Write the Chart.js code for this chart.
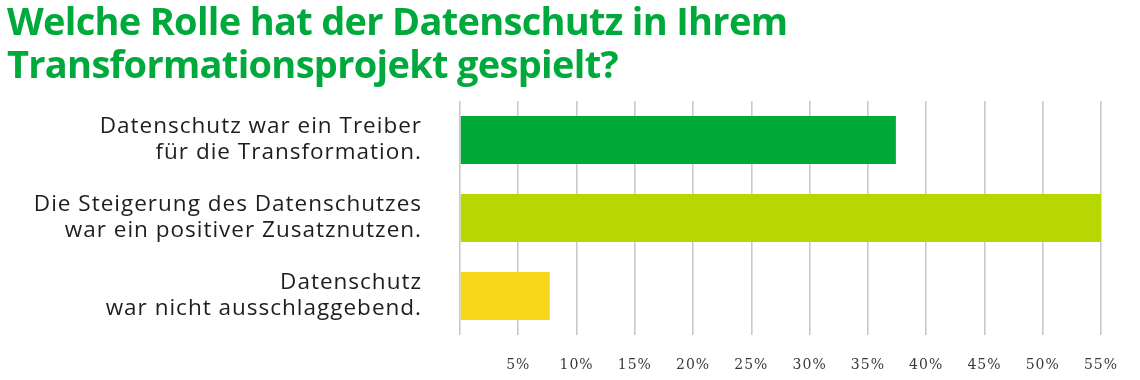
<!DOCTYPE html>
<html>
<head>
<meta charset="utf-8">
<script src="https://cdn.jsdelivr.net/npm/chart.js@4/dist/chart.umd.min.js"></script>
<style>
html,body{margin:0;padding:0;background:#fff;}
#wrap{width:1140px;height:380px;position:relative;overflow:hidden;}
#title{position:absolute;left:7px;top:-1px;margin:0;font-family:'Open Sans',sans-serif;font-weight:700;
  font-size:38px;line-height:43px;letter-spacing:-0.7px;color:#00a93b;white-space:nowrap;}
canvas{position:absolute;left:0;top:0;}
</style>
</head>
<body>
<div id="wrap">
<canvas id="c" width="1140" height="380"></canvas>
<h1 id="title"></h1>
</div>
<script>
const titleLines = ["Welche Rolle hat der Datenschutz in Ihrem", "Transformationsprojekt gespielt?"];
const categories = [
  ["Datenschutz war ein Treiber", "für die Transformation."],
  ["Die Steigerung des Datenschutzes", "war ein positiver Zusatznutzen."],
  ["Datenschutz", "war nicht ausschlaggebend."]
];
const values = [37.4, 55, 7.7];
const barColors = ["#00aa39", "#b6d700", "#f6d619"];
const tickValues = [0, 5, 10, 15, 20, 25, 30, 35, 40, 45, 50, 55];
const tickLabels = ["", "5%", "10%", "15%", "20%", "25%", "30%", "35%", "40%", "45%", "50%", "55%"];

const titleEl = document.getElementById('title');
titleLines.forEach((t, i) => {
  if (i) titleEl.appendChild(document.createElement('br'));
  titleEl.appendChild(document.createTextNode(t));
});

const spacingPlugin = {
  id: 'spacing',
  beforeDraw(chart) { chart.ctx.letterSpacing = '1px'; }
};

new Chart(document.getElementById('c'), {
  type: 'bar',
  data: {
    labels: categories,
    datasets: [{
      data: values,
      backgroundColor: barColors,
      borderWidth: 0,
      categoryPercentage: 1,
      barPercentage: 0.615
    }]
  },
  plugins: [spacingPlugin],
  options: {
    indexAxis: 'y',
    responsive: false,
    animation: false,
    devicePixelRatio: 1,
    layout: { padding: { left: 8, right: 39, top: 101, bottom: 6 } },
    plugins: {
      legend: { display: false },
      tooltip: { enabled: false },
      title: { display: false }
    },
    scales: {
      x: {
        min: 0,
        max: 55,
        afterBuildTicks: (s) => { s.ticks = tickValues.map(v => ({ value: v })); },
        afterFit: (s) => { s.height = 39; },
        grid: { color: '#c9c9c9', lineWidth: 1.6, drawTicks: false },
        border: { display: false },
        ticks: {
          padding: 22,
          color: '#3a3a3a',
          font: { family: "'DejaVu Serif', serif", size: 14 },
          callback: (v, i) => tickLabels[i]
        }
      },
      y: {
        weight: 1,
        grid: { display: false, drawTicks: false },
        border: { display: false },
        afterFit: (s) => { s.width = 414; },
        ticks: {
          padding: 0,
          color: '#1e1e1e',
          font: { family: "'Open Sans', sans-serif", size: 22.5, lineHeight: 1.156 }
        }
      },
      gap: {
        type: 'category',
        position: 'left',
        axis: 'y',
        weight: 0,
        grid: { display: false, drawTicks: false },
        border: { display: false },
        ticks: { display: false },
        afterFit: (s) => { s.width = 38; }
      }
    }
  }
});
</script>
</body>
</html>
